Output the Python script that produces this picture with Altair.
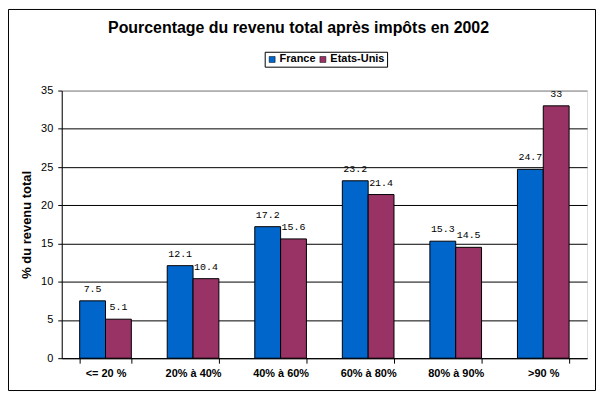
import altair as alt
import pandas as pd

categories = ["<= 20 %", "20% à 40%", "40% à 60%", "60% à 80%", "80% à 90%", ">90 %"]
series = ["France", "Etats-Unis"]
france = [7.5, 12.1, 17.2, 23.2, 15.3, 24.7]
etats_unis = [5.1, 10.4, 15.6, 21.4, 14.5, 33]
y_ticks = [0, 5, 10, 15, 20, 25, 30, 35]
colors = ["#0066CC", "#993366"]

rows = []
for i, c in enumerate(categories):
    rows.append({"cat": c, "pays": "France", "val": france[i]})
    rows.append({"cat": c, "pays": "Etats-Unis", "val": etats_unis[i]})
df = pd.DataFrame(rows)

FONT = "Liberation Sans"
MONO = "Liberation Mono"
W, H = 528, 269

x = alt.X("cat:N", sort=categories, title=None,
          scale=alt.Scale(paddingInner=0.41, paddingOuter=0.205),
          axis=alt.Axis(labelAngle=0, labelFont=FONT, labelFontSize=11, labelFontWeight="bold",
                        labelColor="black", tickBand="extent", tickSize=5, tickColor="black",
                        domainColor="black", labelPadding=4, grid=False))
xo = alt.XOffset("pays:N", sort=series, scale=alt.Scale(paddingInner=0, paddingOuter=0))
y = alt.Y("val:Q", title="% du revenu total",
          scale=alt.Scale(domain=[0, 35], nice=False),
          axis=alt.Axis(values=y_ticks, labelFont=FONT, labelFontSize=11, labelColor="black",
                        labelOverlap=False, tickCount=8,
                        tickSize=4, tickColor="black", domainColor="black", labelPadding=5,
                        titleFont=FONT, titleFontSize=13, titleFontWeight="bold",
                        titleColor="black", titlePadding=7,
                        grid=True,
                        gridColor={"condition": {"test": "datum.value === 35", "value": "#808080"},
                                   "value": "black"},
                        gridWidth=1))
color = alt.Color("pays:N", sort=series, scale=alt.Scale(domain=series, range=colors),
                  legend=alt.Legend(title=None, orient="none", direction="horizontal",
                                    legendX=204, legendY=-39, strokeColor="black",
                                    padding=2, symbolType="square", symbolSize=36,
                                    symbolStrokeColor="black", symbolStrokeWidth=0.5,
                                    labelFont=FONT, labelFontSize=11, labelFontWeight="bold",
                                    labelColor="black", labelOffset=2, columnPadding=1,
                                    symbolOpacity=1))

bars = alt.Chart(df).mark_bar(stroke="black", strokeWidth=1).encode(
    x=x, xOffset=xo, y=y, color=color)

labels = alt.Chart(df).mark_text(font=MONO, fontSize=10, color="black",
                                 baseline="alphabetic", dy=-9).encode(
    x=x, xOffset=xo, y=y,
    text=alt.Text("val:Q", format="~g"))

border = alt.Chart(alt.Data(values=[{}])).mark_rect(
    fillOpacity=0, stroke="black", strokeWidth=1).encode(
    x=alt.value(-53.5), x2=alt.value(W + 8.5), y=alt.value(-81.5), y2=alt.value(H + 32.5))

chart = alt.layer(bars, labels, border).properties(
    width=W, height=H,
    title=alt.TitleParams("Pourcentage du revenu total après impôts en 2002",
                          font=FONT, fontSize=16, fontWeight="bold", color="black",
                          anchor="middle", frame="group", dx=-26, offset=-27),
    autosize=alt.AutoSizeParams(type="none"),
    padding={"left": 54, "top": 82, "right": 9, "bottom": 34},
).configure_view(stroke="#808080", strokeWidth=1).configure(background="white")

chart.save("out.html", embed_options={"renderer": "svg", "actions": False})
